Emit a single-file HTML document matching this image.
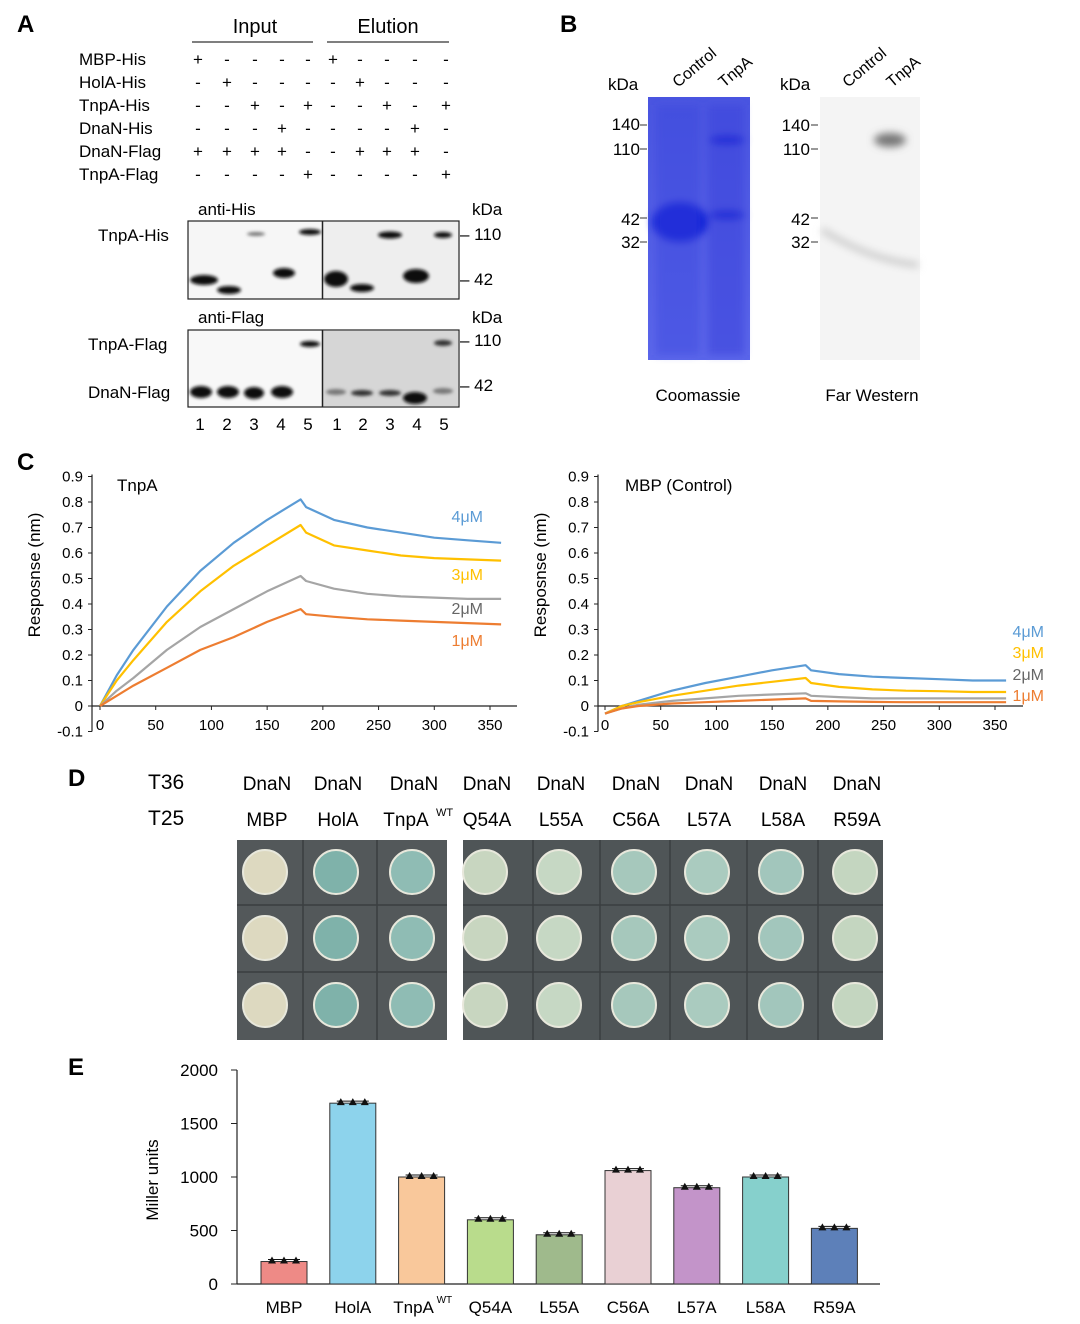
<!DOCTYPE html>
<html><head><meta charset="utf-8"><style>
html,body{margin:0;padding:0;background:#fff}
svg{display:block;font-family:"Liberation Sans",Arial,sans-serif}
</style></head><body>
<svg id="fig" width="1080" height="1324" viewBox="0 0 1080 1324" xmlns="http://www.w3.org/2000/svg">
<defs>
<filter id="blur2"><feGaussianBlur stdDeviation="1.6"/></filter>
<filter id="blur4"><feGaussianBlur stdDeviation="4"/></filter>
<linearGradient id="cgel" x1="0" y1="0" x2="0" y2="1"><stop offset="0" stop-color="#4a55e0"/><stop offset="1" stop-color="#5b66ea"/></linearGradient>
</defs>
<!-- Panel A -->
<g>
<text x="17" y="32" font-size="24" font-weight="bold">A</text>
<text x="255" y="33" font-size="20" text-anchor="middle">Input</text>
<line x1="192" y1="42" x2="313" y2="42" stroke="#333" stroke-width="1.2"/>
<text x="388" y="33" font-size="20" text-anchor="middle">Elution</text>
<line x1="327" y1="42" x2="449" y2="42" stroke="#333" stroke-width="1.2"/>
<g id="signs" font-size="17"></g>
<text x="198" y="215" font-size="17">anti-His</text>
<text x="472" y="215" font-size="17">kDa</text>
<text x="98" y="241" font-size="17">TnpA-His</text>
<rect x="188" y="221" width="271" height="78" fill="#f6f6f6" stroke="#222" stroke-width="1.2"/>
<rect x="323" y="222" width="135" height="76" fill="#eeeeee"/>
<line x1="322.5" y1="221" x2="322.5" y2="299" stroke="#222" stroke-width="1.5"/>
<g filter="url(#blur2)" fill="#111">
<ellipse cx="204" cy="280" rx="14" ry="5"/><ellipse cx="229" cy="290" rx="12" ry="4"/><ellipse cx="256" cy="234" rx="9" ry="2" fill="#777"/><ellipse cx="284" cy="273" rx="11" ry="5"/><ellipse cx="310" cy="232" rx="11" ry="3"/>
<ellipse cx="336" cy="279" rx="12" ry="8"/><ellipse cx="362" cy="288" rx="12" ry="4"/><ellipse cx="390" cy="235" rx="12" ry="3.5"/><ellipse cx="416" cy="276" rx="13" ry="7"/><ellipse cx="443" cy="235" rx="9" ry="3"/>
</g>
<text x="460" y="240" font-size="17">– 110</text>
<text x="460" y="285" font-size="17">– 42</text>
<text x="198" y="323" font-size="17">anti-Flag</text>
<text x="472" y="323" font-size="17">kDa</text>
<text x="88" y="350" font-size="17">TnpA-Flag</text>
<text x="88" y="398" font-size="17">DnaN-Flag</text>
<rect x="188" y="330" width="271" height="77" fill="#f8f8f8" stroke="#222" stroke-width="1.2"/>
<rect x="323" y="331" width="135" height="75" fill="#d6d6d6"/>
<line x1="322.5" y1="330" x2="322.5" y2="407" stroke="#222" stroke-width="1.5"/>
<g filter="url(#blur2)" fill="#0a0a0a">
<ellipse cx="201" cy="392" rx="11" ry="6"/><ellipse cx="228" cy="392" rx="11" ry="6"/><ellipse cx="254" cy="393" rx="10" ry="6"/><ellipse cx="282" cy="392" rx="11" ry="6"/><ellipse cx="310" cy="344" rx="10" ry="3"/>
<ellipse cx="336" cy="392" rx="10" ry="3" fill="#777"/><ellipse cx="362" cy="393" rx="11" ry="3" fill="#333"/><ellipse cx="390" cy="393" rx="11" ry="3" fill="#333"/><ellipse cx="415" cy="398" rx="12" ry="6"/><ellipse cx="443" cy="343" rx="9" ry="3" fill="#333"/><ellipse cx="443" cy="391" rx="10" ry="3" fill="#777"/>
</g>
<text x="460" y="346" font-size="17">– 110</text>
<text x="460" y="391" font-size="17">– 42</text>
<g id="lanes" font-size="17" text-anchor="middle"></g>
</g>
<!-- Panel B -->
<g>
<text x="560" y="32" font-size="24" font-weight="bold">B</text>
<text x="608" y="90" font-size="17">kDa</text>
<text x="678" y="88" font-size="16" transform="rotate(-40 678 88)">Control</text>
<text x="724" y="88" font-size="16" transform="rotate(-40 724 88)">TnpA</text>
<rect x="648" y="97" width="102" height="263" fill="url(#cgel)"/>
<g filter="url(#blur4)">
<ellipse cx="680" cy="222" rx="28" ry="20" fill="#1020d8"/>
<rect x="708" y="105" width="36" height="250" fill="#3a44dc" opacity="0.6"/>
<rect x="656" y="105" width="44" height="250" fill="#3a44dc" opacity="0.4"/>
<ellipse cx="727" cy="140" rx="18" ry="5" fill="#2530d8"/>
<ellipse cx="727" cy="215" rx="18" ry="5" fill="#2530d8"/>
</g>
<text x="640" y="130" font-size="17" text-anchor="end">140</text>
<text x="640" y="155" font-size="17" text-anchor="end">110</text>
<text x="640" y="225" font-size="17" text-anchor="end">42</text>
<text x="640" y="248" font-size="17" text-anchor="end">32</text>
<g stroke="#333"><line x1="640" y1="125" x2="647" y2="125"/><line x1="640" y1="149" x2="647" y2="149"/><line x1="640" y1="218" x2="647" y2="218"/><line x1="640" y1="242" x2="647" y2="242"/></g>
<text x="698" y="401" font-size="17" text-anchor="middle">Coomassie</text>
<text x="780" y="90" font-size="17">kDa</text>
<text x="848" y="88" font-size="16" transform="rotate(-40 848 88)">Control</text>
<text x="892" y="88" font-size="16" transform="rotate(-40 892 88)">TnpA</text>
<rect x="820" y="97" width="100" height="263" fill="#f4f4f4"/>
<g filter="url(#blur4)">
<ellipse cx="890" cy="140" rx="16" ry="7" fill="#777"/>
<path d="M822 230 Q870 260 918 265" stroke="#ccc" stroke-width="6" fill="none"/>
</g>
<text x="810" y="131" font-size="17" text-anchor="end">140</text>
<text x="810" y="155" font-size="17" text-anchor="end">110</text>
<text x="810" y="225" font-size="17" text-anchor="end">42</text>
<text x="810" y="248" font-size="17" text-anchor="end">32</text>
<g stroke="#333"><line x1="811" y1="125" x2="818" y2="125"/><line x1="811" y1="149" x2="818" y2="149"/><line x1="811" y1="218" x2="818" y2="218"/><line x1="811" y1="242" x2="818" y2="242"/></g>
<text x="872" y="401" font-size="17" text-anchor="middle">Far Western</text>
</g>
<!-- Panel C -->
<g>
<text x="17" y="470" font-size="24" font-weight="bold">C</text>
<g id="chartL"></g><g id="chartR"></g>
</g>
<!-- Panel D -->
<g id="panelD">
<text x="68" y="786" font-size="24" font-weight="bold">D</text>
<text x="148" y="789" font-size="21">T36</text>
<text x="148" y="825" font-size="21">T25</text>
<rect x="237" y="840" width="210" height="200" fill="#53585a"/>
<rect x="463" y="840" width="420" height="200" fill="#4f5557"/>
</g>
<!-- Panel E -->
<g id="panelE">
<text x="68" y="1075" font-size="24" font-weight="bold">E</text>
<text transform="translate(158 1180) rotate(-90)" font-size="17" text-anchor="middle">Miller units</text>
</g>
</svg>
<script>
const NS="http://www.w3.org/2000/svg";
function mk(tag,attrs,parent,txt){const e=document.createElementNS(NS,tag);for(const k in attrs)e.setAttribute(k,attrs[k]);if(txt!==undefined)e.textContent=txt;parent.appendChild(e);return e;}

// ---- Panel A signs ----
const rowLabels=["MBP-His","HolA-His","TnpA-His","DnaN-His","DnaN-Flag","TnpA-Flag"];
const signRows=["+----+----","-+----+---","--+-+--+-+","---+----+-","++++--+++-","----+----+"];
const colX=[198,227,255,282,308,333,360,387,415,446];
const sg=document.getElementById("signs");
rowLabels.forEach((lab,i)=>{
  const y=65+i*23;
  const t=mk("text",{x:79,y:y},sg,lab);
  
  
  [...signRows[i]].forEach((c,j)=>{
    const s=mk("text",{x:colX[j],y:y,"text-anchor":"middle"},sg,c==="+"?"+":"-");
    
    
  });
});
const laneX=[200,227,254,281,308,337,363,390,417,444];
const lg=document.getElementById("lanes");
laneX.forEach((x,i)=>{
  const t=mk("text",{x:x,y:430},lg,String(i%5+1));
  
  
});

// ---- Panel C data ----
const times=[0,15,30,60,90,120,150,180,185,210,240,270,300,330,360];
const concLabels=["4μM","3μM","2μM","1μM"];
const tnpa4=[0,0.12,0.22,0.39,0.53,0.64,0.73,0.81,0.78,0.73,0.70,0.68,0.66,0.65,0.64];
const tnpa3=[0,0.10,0.18,0.33,0.45,0.55,0.63,0.71,0.68,0.63,0.61,0.59,0.58,0.575,0.57];
const tnpa2=[0,0.06,0.11,0.22,0.31,0.38,0.45,0.51,0.49,0.46,0.44,0.43,0.425,0.42,0.42];
const tnpa1=[0,0.04,0.08,0.15,0.22,0.27,0.33,0.38,0.36,0.35,0.34,0.335,0.33,0.325,0.32];
const mbp4=[-0.03,0.0,0.02,0.06,0.09,0.115,0.14,0.16,0.14,0.125,0.115,0.11,0.105,0.10,0.10];
const mbp3=[-0.03,0,0.015,0.04,0.06,0.08,0.095,0.11,0.09,0.075,0.065,0.06,0.058,0.055,0.055];
const mbp2=[-0.03,-0.01,0.005,0.02,0.03,0.04,0.045,0.05,0.04,0.035,0.03,0.03,0.03,0.03,0.03];
const mbp1=[-0.03,-0.01,0,0.01,0.015,0.02,0.025,0.03,0.02,0.018,0.016,0.015,0.015,0.015,0.015];
const yTicks=[-0.1,0,0.1,0.2,0.3,0.4,0.5,0.6,0.7,0.8,0.9];
const yTickLabels=["-0.1","0","0.1","0.2","0.3","0.4","0.5","0.6","0.7","0.8","0.9"];
const xTicks=[0,50,100,150,200,250,300,350];
const colors=["#5b9bd5","#ffc000","#a5a5a5","#ed7d31"];

function drawBLI(g,o){
  const ys=v=>706-v*255;
  const xs=t=>o.x0+t*390/350;
  mk("line",{x1:o.ax,y1:ys(0.9)-2,x2:o.ax,y2:ys(-0.1),stroke:"#222","stroke-width":1.2},g);
  mk("line",{x1:o.ax,y1:706,x2:o.ax+425,y2:706,stroke:"#222","stroke-width":1.2},g);
  yTicks.forEach((v,i)=>{
    mk("line",{x1:o.ax-4,y1:ys(v),x2:o.ax,y2:ys(v),stroke:"#222"},g);
    const t=mk("text",{x:o.ax-9,y:ys(v)+5,"text-anchor":"end","font-size":15},g,yTickLabels[i]);
    
    
  });
  xTicks.forEach(v=>{
    mk("line",{x1:xs(v),y1:706,x2:xs(v),y2:710,stroke:"#222"},g);
    const t=mk("text",{x:xs(v),y:730,"text-anchor":"middle","font-size":15},g,String(v));
    
    
  });
  const yt=mk("text",{transform:`translate(${o.ax-52} 575) rotate(-90)`,"text-anchor":"middle","font-size":17},g,"Resposnse (nm)");
  
  
  const tt=mk("text",{x:o.titleX,y:491,"font-size":17},g,o.title);
  
  
  o.series.forEach((s,i)=>{
    let d="";
    s.forEach((v,j)=>{d+=(j?"L":"M")+xs(times[j]).toFixed(1)+" "+ys(v).toFixed(1);});
    const p=mk("path",{d:d,fill:"none",stroke:colors[i],"stroke-width":2.2,"stroke-linejoin":"round"},g);
    
    
    const l=mk("text",{x:o.labX,y:o.labY[i],"font-size":16,fill:i==2?"#666":colors[i],"text-anchor":"end"},g,concLabels[i]);
    
    
  });
}
drawBLI(document.getElementById("chartL"),{ax:92,x0:100,title:"TnpA",titleX:117,series:[tnpa4,tnpa3,tnpa2,tnpa1],labX:483,labY:[522,580,614,646]});
drawBLI(document.getElementById("chartR"),{ax:598,x0:605,title:"MBP (Control)",titleX:625,series:[mbp4,mbp3,mbp2,mbp1],labX:1044,labY:[637,658,680,701]});

// ---- Panel D ----
const dHeadX=[267,338,414,487,561,636,709,783,857];
const t25Labels=["MBP","HolA","TnpA","Q54A","L55A","C56A","L57A","L58A","R59A"];
const colonyColors=["#ddd9c0","#7fb2aa","#8fbcb4","#c8d6c0","#c6d8c4","#a6c8bc","#aacbbf","#a2c6bc","#c4d6c0"];
const pd=document.getElementById("panelD");
dHeadX.forEach((x,i)=>{
  const a=mk("text",{x:x,y:790,"text-anchor":"middle","font-size":19},pd,"DnaN");
  
  
  const b=mk("text",{x:x-(i==2?8:0),y:826,"text-anchor":"middle","font-size":19},pd,t25Labels[i]);
  
  
  if(i==2){mk("text",{x:x+22,y:816,"font-size":11},pd,"WT");}
  [872,938,1005].forEach(cy=>{
    const c=mk("circle",{cx:x-2,cy:cy,r:22,fill:colonyColors[i],stroke:"#e8e8dc","stroke-width":2},pd);
    
    
  });
});
[[237,447],[463,883]].forEach(([a,b])=>{
  [905,972].forEach(y=>mk("line",{x1:a,y1:y,x2:b,y2:y,stroke:"#3a3e40","stroke-width":1.5},pd));
});
[303,377,533,600,670,747,818].forEach(x=>mk("line",{x1:x,y1:840,x2:x,y2:1040,stroke:"#3a3e40","stroke-width":1.5},pd));

// ---- Panel E ----
const eCats=["MBP","HolA","TnpA","Q54A","L55A","C56A","L57A","L58A","R59A"];
const eValues=[210,1690,1000,600,460,1060,900,1000,520];
const eTicks=[0,500,1000,1500,2000];
const eColors=["#ee8a86","#8dd3ec","#f9c89b","#b9dc8c","#9fba8c","#e9d0d4","#c394c9","#86d0cc","#5d80b9"];
const pe=document.getElementById("panelE");
const ey=v=>1284-v*0.107;
const ex=i=>284+i*68.8;
mk("line",{x1:237,y1:ey(2000),x2:237,y2:1284,stroke:"#222","stroke-width":1.2},pe);
mk("line",{x1:237,y1:1284,x2:880,y2:1284,stroke:"#222","stroke-width":1.2},pe);
eTicks.forEach(v=>{
  mk("line",{x1:231,y1:ey(v),x2:237,y2:ey(v),stroke:"#222"},pe);
  const t=mk("text",{x:218,y:ey(v)+6,"text-anchor":"end","font-size":17},pe,String(v));
  
  
});
eValues.forEach((v,i)=>{
  const r=mk("rect",{x:ex(i)-23,y:ey(v),width:46,height:1284-ey(v),fill:eColors[i],stroke:"#333","stroke-width":1},pe);
  
  
  [-12,0,12].forEach(dx=>mk("path",{d:`M${ex(i)+dx-4} ${ey(v)+2}L${ex(i)+dx+4} ${ey(v)+2}L${ex(i)+dx} ${ey(v)-5}Z`,fill:"#111"},pe));
  mk("line",{x1:ex(i)-16,y1:ey(v)-2,x2:ex(i)+16,y2:ey(v)-2,stroke:"#111","stroke-width":1},pe);
  const l=mk("text",{x:ex(i)-(i==2?8:0),y:1313,"text-anchor":"middle","font-size":17},pe,eCats[i]);
  
  
  if(i==2){mk("text",{x:ex(i)+15,y:1303,"font-size":10},pe,"WT");}
});
</script>
</body></html>
